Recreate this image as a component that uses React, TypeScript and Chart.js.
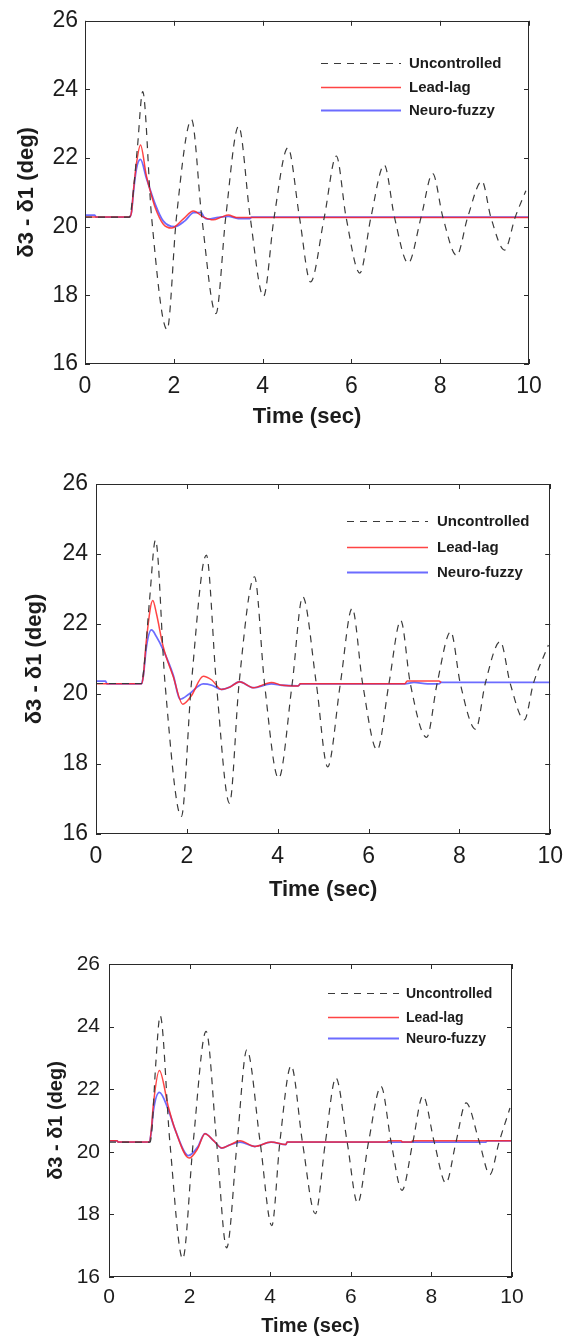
import React, { useEffect, useRef } from "react";
import { Chart, registerables } from "chart.js";

Chart.register(...registerables);

// ---------- Data ----------
const seriesLabels = ["Uncontrolled", "Lead-lag", "Neuro-fuzzy"];
const xTickLabels = ["0", "2", "4", "6", "8", "10"];
const xTitle = "Time (sec)";
const yTitle = "δ3 - δ1 (deg)";

// Chart 1
const unc1T = [0, 1.0, 1.06, 1.18, 1.30, 1.50, 1.85, 2.06, 2.40, 2.63, 2.95, 3.17, 3.46, 3.72, 4.02, 4.26, 4.57, 4.83, 5.08, 5.39, 5.66, 5.88, 6.19, 6.44, 6.74, 6.97, 7.28, 7.57, 7.83, 8.06, 8.37, 8.62, 8.94, 9.14, 9.45, 9.69, 9.93];
const unc1Y = [20.28, 20.28, 20.7, 22.3, 23.94, 20.28, 17.0, 20.28, 23.12, 20.28, 17.47, 20.28, 22.93, 20.28, 17.97, 20.28, 22.30, 20.28, 18.39, 20.28, 22.06, 20.28, 18.65, 20.28, 21.80, 20.28, 18.94, 20.28, 21.55, 20.28, 19.16, 20.28, 21.33, 20.28, 19.32, 20.28, 21.05];
const lead1T = [0, 1.0, 1.05, 1.09, 1.16, 1.25, 1.38, 1.49, 1.58, 1.76, 1.95, 2.21, 2.44, 2.67, 2.89, 3.07, 3.23, 3.41, 10];
const lead1Y = [20.28, 20.28, 20.45, 21.04, 21.85, 22.38, 21.5, 20.95, 20.56, 20.08, 19.96, 20.22, 20.46, 20.28, 20.20, 20.28, 20.34, 20.27, 20.27];
const neuro1T = [0, 0.22, 0.25, 1.0, 1.05, 1.09, 1.16, 1.25, 1.38, 1.58, 1.76, 2.02, 2.25, 2.45, 2.62, 2.68, 2.77, 3.0, 3.23, 3.45, 3.72, 3.75, 10];
const neuro1Y = [20.34, 20.34, 20.28, 20.28, 20.45, 21.0, 21.7, 21.96, 21.43, 20.66, 20.17, 20.0, 20.17, 20.41, 20.41, 20.28, 20.22, 20.27, 20.30, 20.24, 20.24, 20.28, 20.28];

// Chart 2
const unc2T = [0, 1.0, 1.06, 1.18, 1.31, 1.52, 1.88, 2.10, 2.43, 2.65, 2.94, 3.15, 3.49, 3.71, 4.02, 4.32, 4.55, 4.85, 5.10, 5.38, 5.64, 5.87, 6.19, 6.45, 6.71, 6.92, 7.28, 7.51, 7.81, 8.02, 8.36, 8.57, 8.90, 9.12, 9.43, 9.63, 9.96];
const unc2Y = [20.3, 20.3, 20.8, 22.7, 24.40, 20.3, 16.50, 20.3, 23.97, 20.3, 16.88, 20.3, 23.35, 20.3, 17.59, 20.3, 22.78, 20.3, 17.92, 20.3, 22.45, 20.3, 18.40, 20.3, 22.10, 20.3, 18.76, 20.3, 21.78, 20.3, 18.99, 20.3, 21.50, 20.3, 19.26, 20.3, 21.40];
const lead2T = [0, 1.0, 1.04, 1.11, 1.25, 1.33, 1.48, 1.70, 1.91, 2.1, 2.36, 2.55, 2.76, 2.95, 3.16, 3.46, 3.86, 4.1, 4.45, 4.5, 6.8, 6.85, 7.55, 7.6];
const lead2Y = [20.29, 20.29, 20.5, 21.55, 22.67, 22.3, 21.35, 20.50, 19.71, 19.95, 20.51, 20.4, 20.13, 20.2, 20.35, 20.18, 20.33, 20.25, 20.23, 20.29, 20.29, 20.37, 20.37, 20.33];
const neuro2T = [0, 0.21, 0.24, 1.0, 1.04, 1.11, 1.22, 1.33, 1.48, 1.70, 1.85, 2.05, 2.36, 2.55, 2.76, 2.95, 3.16, 3.46, 3.86, 4.1, 4.45, 4.5, 6.8, 7.0, 7.3, 7.55, 7.6, 10];
const neuro2Y = [20.37, 20.37, 20.29, 20.29, 20.5, 21.35, 21.83, 21.64, 21.26, 20.54, 19.85, 20.0, 20.29, 20.25, 20.13, 20.2, 20.35, 20.18, 20.29, 20.25, 20.23, 20.29, 20.29, 20.33, 20.29, 20.29, 20.33, 20.33];

// Chart 3
const unc3T = [0, 1.02, 1.07, 1.16, 1.27, 1.51, 1.83, 2.09, 2.41, 2.67, 2.92, 3.18, 3.42, 3.75, 4.04, 4.24, 4.52, 4.80, 5.12, 5.37, 5.63, 5.91, 6.17, 6.44, 6.75, 7.0, 7.27, 7.54, 7.79, 8.07, 8.36, 8.61, 8.86, 9.19, 9.45, 9.68, 9.95];
const unc3Y = [20.31, 20.31, 20.8, 22.8, 24.35, 20.31, 16.58, 20.31, 23.85, 20.31, 16.93, 20.31, 23.26, 20.31, 17.64, 20.31, 22.75, 20.31, 18.02, 20.31, 22.36, 20.31, 18.36, 20.31, 22.09, 20.31, 18.77, 20.31, 21.79, 20.31, 19.0, 20.31, 21.56, 20.31, 19.27, 20.31, 21.4];
const lead3T = [0, 0.2, 0.23, 1.0, 1.05, 1.1, 1.25, 1.47, 1.64, 1.99, 2.2, 2.38, 2.6, 2.80, 3.0, 3.25, 3.62, 4.02, 4.39, 4.42, 6.9, 6.93, 7.25, 7.28, 7.5, 7.53, 10];
const lead3Y = [20.35, 20.35, 20.31, 20.31, 20.7, 21.5, 22.60, 21.45, 20.71, 19.80, 20.1, 20.58, 20.35, 20.12, 20.22, 20.35, 20.17, 20.31, 20.23, 20.31, 20.31, 20.35, 20.35, 20.31, 20.31, 20.35, 20.35];
const neuro3T = [0, 0.2, 0.23, 1.0, 1.05, 1.1, 1.25, 1.47, 1.64, 1.97, 2.2, 2.38, 2.6, 2.80, 3.0, 3.25, 3.62, 4.02, 4.39, 4.42, 9.35, 9.38, 10];
const neuro3Y = [20.35, 20.35, 20.31, 20.31, 20.65, 21.3, 21.90, 21.35, 20.71, 19.88, 20.15, 20.58, 20.35, 20.12, 20.22, 20.31, 20.17, 20.31, 20.23, 20.31, 20.31, 20.35, 20.35];

// ---------- Styles / layout ----------
const FONT = "'Liberation Sans', Arial, Helvetica, sans-serif";
const TEXT = "#1c1c1c";
const UNC_COLOR = "#3a3a3a";
const LEAD_COLOR = "rgba(255,35,35,0.85)";
const NEURO_COLOR = "rgba(45,45,255,0.7)";

type Layout = {
  top: number; h: number; padTop: number; padRight: number; yW: number; xH: number;
  yTickPad: number; xTickPad: number; yTitlePad: number; xTitlePad: number;
  tickSize: number; titleSize: number;
  legend: { x0: number; x1: number; tx: number; rows: number[]; size: number };
};

const layouts: Layout[] = [
  { top: 0, h: 440, padTop: 19, padRight: 43, yW: 85, xH: 76, yTickPad: 7, xTickPad: 9, yTitlePad: 16, xTitlePad: 12, tickSize: 23, titleSize: 22,
    legend: { x0: 321, x1: 401, tx: 409, rows: [63, 87, 110], size: 15 } },
  { top: 440, h: 470, padTop: 44, padRight: 21, yW: 96, xH: 76, yTickPad: 8, xTickPad: 9, yTitlePad: 24, xTitlePad: 9, tickSize: 23, titleSize: 22,
    legend: { x0: 347, x1: 428, tx: 437, rows: [81, 107, 132], size: 15 } },
  { top: 930, h: 406, padTop: 34, padRight: 60, yW: 109, xH: 59, yTickPad: 9, xTickPad: 8, yTitlePad: 46, xTitlePad: 0, tickSize: 21, titleSize: 20,
    legend: { x0: 328, x1: 399, tx: 406, rows: [63, 87, 108], size: 14 } },
];

const seriesSets = [
  [[unc1T, unc1Y], [lead1T, lead1Y], [neuro1T, neuro1Y]],
  [[unc2T, unc2Y], [lead2T, lead2Y], [neuro2T, neuro2Y]],
  [[unc3T, unc3Y], [lead3T, lead3Y], [neuro3T, neuro3Y]],
];

const toPts = (t: number[], y: number[]) => t.map((v, i) => ({ x: v, y: y[i] }));

const boxPlugin = {
  id: "matlabBox",
  afterDatasetsDraw(chart: any) {
    const { ctx, chartArea: a, scales } = chart;
    ctx.save();
    ctx.strokeStyle = "#2a2a2a";
    ctx.lineWidth = 1;
    ctx.setLineDash([]);
    ctx.strokeRect(Math.round(a.left) + 0.5, Math.round(a.top) + 0.5, Math.round(a.right - a.left) - 1, Math.round(a.bottom - a.top) - 1);
    const L = 5;
    ctx.beginPath();
    scales.x.ticks.forEach((t: any) => {
      const x = Math.round(scales.x.getPixelForValue(t.value)) + 0.5;
      ctx.moveTo(x, a.bottom); ctx.lineTo(x, a.bottom - L);
      ctx.moveTo(x, a.top); ctx.lineTo(x, a.top + L);
    });
    scales.y.ticks.forEach((t: any) => {
      const y = Math.round(scales.y.getPixelForValue(t.value)) + 0.5;
      ctx.moveTo(a.left, y); ctx.lineTo(a.left + L, y);
      ctx.moveTo(a.right, y); ctx.lineTo(a.right - L, y);
    });
    ctx.stroke();
    ctx.restore();
  },
};

const legendPlugin = {
  id: "inLegend",
  afterDatasetsDraw(chart: any, _args: any, opts: any) {
    const { ctx } = chart;
    ctx.save();
    chart.data.datasets.forEach((ds: any, i: number) => {
      const y = opts.rows[i];
      ctx.strokeStyle = ds.borderColor;
      ctx.lineWidth = ds.borderWidth;
      ctx.setLineDash(ds.borderDash || []);
      ctx.beginPath();
      ctx.moveTo(opts.x0, y + 0.5);
      ctx.lineTo(opts.x1, y + 0.5);
      ctx.stroke();
      ctx.setLineDash([]);
      ctx.fillStyle = TEXT;
      ctx.font = `bold ${opts.size}px ${FONT}`;
      ctx.textAlign = "left";
      ctx.textBaseline = "middle";
      ctx.fillText(ds.label, opts.tx, y + 1);
    });
    ctx.restore();
  },
};

function Panel({ idx }: { idx: number }) {
  const ref = useRef<HTMLCanvasElement | null>(null);
  const L = layouts[idx];
  useEffect(() => {
    if (!ref.current) return;
    const s = seriesSets[idx];
    const chart = new Chart(ref.current, {
      type: "line",
      data: {
        datasets: [
          { label: seriesLabels[0], data: toPts(s[0][0], s[0][1]), borderColor: UNC_COLOR, borderWidth: 1.2, borderDash: [7, 6], pointRadius: 0, cubicInterpolationMode: "monotone", fill: false },
          { label: seriesLabels[1], data: toPts(s[1][0], s[1][1]), borderColor: LEAD_COLOR, borderWidth: 1.5, pointRadius: 0, cubicInterpolationMode: "monotone", fill: false },
          { label: seriesLabels[2], data: toPts(s[2][0], s[2][1]), borderColor: NEURO_COLOR, borderWidth: 1.8, pointRadius: 0, cubicInterpolationMode: "monotone", fill: false },
        ],
      },
      options: {
        animation: false,
        responsive: false,
        devicePixelRatio: 1,
        layout: { padding: { top: L.padTop, right: L.padRight, left: 0, bottom: 0 } },
        plugins: {
          legend: { display: false },
          tooltip: { enabled: false },
          inLegend: L.legend,
        } as any,
        scales: {
          x: {
            type: "linear", min: 0, max: 10,
            ticks: {
              stepSize: 2, padding: L.xTickPad, color: TEXT, maxRotation: 0, autoSkip: false,
              font: { family: FONT, size: L.tickSize },
              callback: (v: any) => xTickLabels[Math.round(Number(v) / 2)] ?? String(v),
            },
            grid: { display: false, drawTicks: false },
            border: { display: false },
            title: { display: true, text: xTitle, color: TEXT, font: { family: FONT, size: L.titleSize, weight: "bold", lineHeight: 1 }, padding: { top: 0, bottom: L.xTitlePad } },
            afterFit: (sc: any) => { sc.height = L.xH; },
          },
          y: {
            type: "linear", min: 16, max: 26,
            ticks: { stepSize: 2, padding: L.yTickPad, color: TEXT, font: { family: FONT, size: L.tickSize } },
            grid: { display: false, drawTicks: false },
            border: { display: false },
            title: { display: true, text: yTitle, color: TEXT, font: { family: FONT, size: L.titleSize, weight: "bold", lineHeight: 1 }, padding: { top: L.yTitlePad, bottom: 0 } },
            afterFit: (sc: any) => { sc.width = L.yW; },
          },
        },
      } as any,
      plugins: [boxPlugin, legendPlugin],
    });
    return () => chart.destroy();
  }, [idx]);
  return (
    <canvas
      ref={ref}
      width={572}
      height={L.h}
      style={{ position: "absolute", left: 0, top: L.top, width: 572, height: L.h, display: "block" }}
    />
  );
}

export default function App() {
  return (
    <div style={{ position: "absolute", left: 0, top: 0, width: 572, height: 1336, background: "#fff", overflow: "hidden" }}>
      <Panel idx={0} />
      <Panel idx={1} />
      <Panel idx={2} />
    </div>
  );
}
